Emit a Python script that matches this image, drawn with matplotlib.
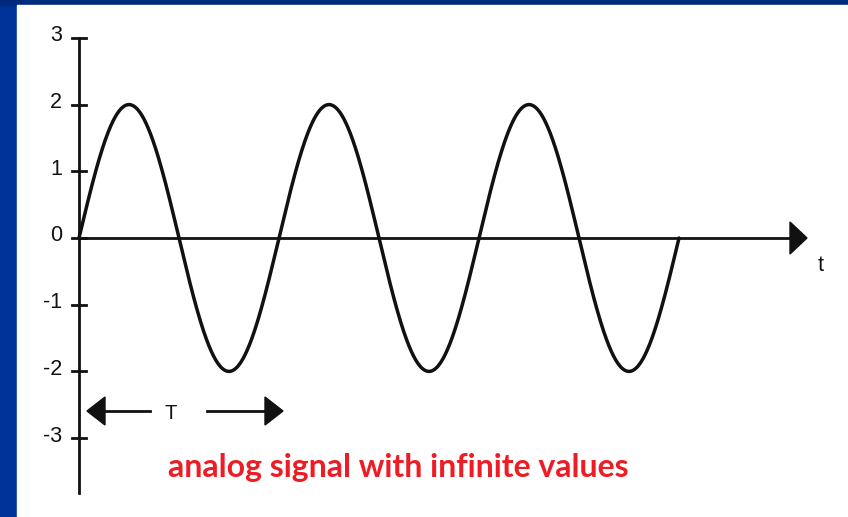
import numpy as np
import matplotlib
matplotlib.use("Agg")
import matplotlib.pyplot as plt
from matplotlib.patches import Rectangle, Polygon

# Signal parameters
amplitude = 2.0
period = 1.0
cycles = 3
yticks = [3, 2, 1, 0, -1, -2, -3]
ytick_labels = ["3", "2", "1", "0", "-1", "-2", "-3"]
caption = "analog signal with infinite values"

W, H = 848, 517
fig = plt.figure(figsize=(W / 100, H / 100), dpi=100)
fig.patch.set_facecolor("#00339a")

# pixel geometry -> data mapping
x0_px, y0_px = 79, 238
px_per_t = 200.0
px_per_y = 66.7

ax = fig.add_axes([0, 0, 1, 1])
ax.set_xlim(-x0_px / px_per_t, (W - x0_px) / px_per_t)
ax.set_ylim(-(H - y0_px) / px_per_y, y0_px / px_per_y)
ax.axis("off")

def px2d(xp, yp):
    return (xp - x0_px) / px_per_t, (y0_px - yp) / px_per_y

# backgrounds
xa, ya = px2d(0, 0)
xb, yb = px2d(W, 5)
ax.add_patch(Rectangle((xa, yb), xb - xa, ya - yb, color="#002a7c", zorder=0))
xa, ya = px2d(17, 5)
xb, yb = px2d(W, H)
ax.add_patch(Rectangle((xa, yb), xb - xa, ya - yb, color="white", zorder=1))

# signal
t = np.linspace(0, cycles * period, 2000)
y = amplitude * np.sin(2 * np.pi * t / period)
ax.plot(t, y, color="#111111", lw=2.5, zorder=3, solid_capstyle="round")

# vertical axis
ybot = px2d(0, 493)[1]
ax.plot([0, 0], [ybot, 3], color="#111111", lw=2.0, zorder=3)
tick_half = 7 / px_per_t
for v, lab in zip(yticks, ytick_labels):
    ax.plot([-tick_half, tick_half], [v, v], color="#111111", lw=2.0, zorder=3)
    ax.text(-tick_half - 10 / px_per_t, v + 0.03, lab, ha="right", va="center",
            fontsize=15.5, family="Liberation Sans", color="#111111", zorder=4)

# horizontal axis with arrow
tip_t = px2d(807, 0)[0]
base_t = px2d(790, 0)[0]
ax.plot([0, base_t], [0, 0], color="#111111", lw=2.0, zorder=3)
hh = 16 / px_per_y
ax.add_patch(Polygon([[base_t, hh], [tip_t, 0], [base_t, -hh]], closed=True,
                     color="#111111", zorder=3))
tx, ty = px2d(821, 265)
ax.text(tx, ty, "t", ha="center", va="center", fontsize=15.5,
        family="Liberation Sans", color="#111111", zorder=4)

# period arrow
ay = px2d(0, 411)[1]
lt, lb = px2d(87, 0)[0], px2d(105, 0)[0]
l_end = px2d(150, 0)[0]
r_start = px2d(207, 0)[0]
rb, rt = px2d(265, 0)[0], px2d(283, 0)[0]
ah = 14 / px_per_y
ax.add_patch(Polygon([[lb, ay + ah], [lt, ay], [lb, ay - ah]], closed=True,
                     color="#111111", zorder=3))
ax.plot([lb, l_end], [ay, ay], color="#111111", lw=2.0, zorder=3)
ax.add_patch(Polygon([[rb, ay + ah], [rt, ay], [rb, ay - ah]], closed=True,
                     color="#111111", zorder=3))
ax.plot([r_start, rb], [ay, ay], color="#111111", lw=2.0, zorder=3)
Tx = px2d(171, 0)[0]
ax.text(Tx, ay - 0.03, "T", ha="center", va="center", fontsize=14.5,
        family="Liberation Sans", color="#111111", zorder=4)

# caption
cx, cy = px2d(398, 467)
ax.text(cx, cy, caption, ha="center", va="center", fontsize=23,
        fontweight="bold", family="Lato", color="#ee1c25", zorder=4)

fig.savefig("out.png", dpi=100, facecolor=fig.get_facecolor())
